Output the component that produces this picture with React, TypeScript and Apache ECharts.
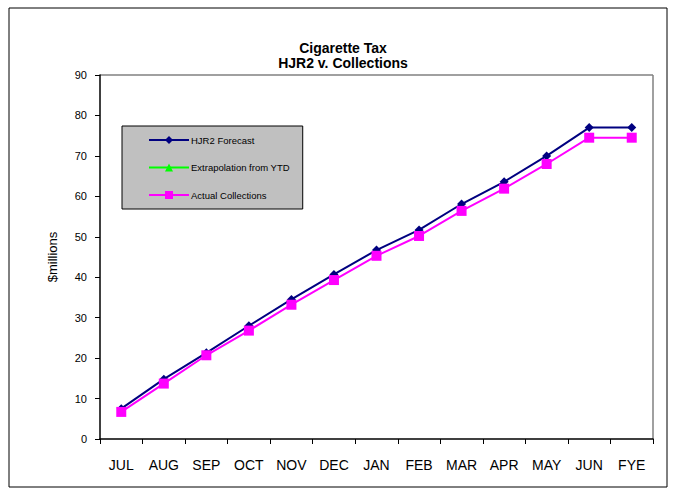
import React, { useEffect, useRef } from "react";
import * as echarts from "echarts";

const categories = ["JUL", "AUG", "SEP", "OCT", "NOV", "DEC", "JAN", "FEB", "MAR", "APR", "MAY", "JUN", "FYE"];
const hjr2Forecast = [7.5, 14.8, 21.3, 28.0, 34.5, 40.7, 46.7, 51.7, 58.1, 63.6, 70.0, 77.0, 77.0];
const extrapolation: (number | null)[] = [];
const actualCollections = [6.7, 13.7, 20.7, 26.8, 33.2, 39.3, 45.3, 50.2, 56.4, 61.9, 68.0, 74.5, 74.5];
const yTicks = { min: 0, max: 90, interval: 10 };

const FONT = "Liberation Sans, Arial, sans-serif";

export default function App() {
  const ref = useRef<HTMLDivElement>(null);
  useEffect(() => {
    document.body.style.margin = "0";
    const chart = echarts.init(ref.current!, null, { renderer: "svg" });
    chart.setOption({
      animation: false,
      backgroundColor: "#ffffff",
      title: {
        text: "Cigarette Tax\nHJR2 v. Collections",
        left: 338,
        top: 35,
        textAlign: "center",
        textStyle: { fontFamily: FONT, fontSize: 14, fontWeight: "bold", color: "#000", lineHeight: 15 },
      },
      graphic: [
        {
          type: "rect",
          shape: { x: 9, y: 8, width: 658, height: 479 },
          style: { fill: "none", stroke: "#000", lineWidth: 1 },
          silent: true,
          z: -1,
        },
        {
          type: "line",
          shape: { x1: 100, y1: 75, x2: 653, y2: 75 },
          style: { stroke: "#808080", lineWidth: 1.5 },
          silent: true,
        },
        {
          type: "line",
          shape: { x1: 653, y1: 75, x2: 653, y2: 439 },
          style: { stroke: "#808080", lineWidth: 1.5 },
          silent: true,
        },
      ],
      legend: {
        left: 122,
        top: 126,
        orient: "vertical",
        backgroundColor: "#c0c0c0",
        borderColor: "#000",
        borderWidth: 1,
        borderRadius: 0,
        padding: [9, 13, 9, 26],
        itemWidth: 40,
        itemHeight: 10,
        itemGap: 17.5,
        textStyle: { fontFamily: FONT, fontSize: 9.5, color: "#000", padding: [0, 0, 0, -3] },
        data: ["HJR2 Forecast", "Extrapolation from YTD", "Actual Collections"],
      },
      grid: { left: 100, right: 22, top: 75, bottom: 56 },
      xAxis: {
        type: "category",
        data: categories,
        boundaryGap: true,
        axisLine: { lineStyle: { color: "#000", width: 1.5 } },
        axisTick: { show: true, inside: false, length: 5, lineStyle: { color: "#000" } },
        axisLabel: { fontFamily: FONT, fontSize: 14, color: "#000", margin: 19 },
        splitLine: { show: false },
      },
      yAxis: {
        type: "value",
        min: yTicks.min,
        max: yTicks.max,
        interval: yTicks.interval,
        name: "$millions",
        nameLocation: "middle",
        nameGap: 41,
        nameTextStyle: { fontFamily: FONT, fontSize: 13, color: "#000" },
        axisLine: { show: true, lineStyle: { color: "#000", width: 1.5 } },
        axisTick: { show: true, inside: false, length: 5, lineStyle: { color: "#000" } },
        axisLabel: { fontFamily: FONT, fontSize: 11, color: "#000", margin: 13 },
        splitLine: { show: false },
      },
      series: [
        {
          name: "HJR2 Forecast",
          type: "line",
          data: hjr2Forecast,
          color: "#000080",
          symbol: "diamond",
          symbolSize: 9,
          lineStyle: { color: "#000080", width: 2 },
          itemStyle: { color: "#000080" },
          z: 2,
        },
        {
          name: "Extrapolation from YTD",
          type: "line",
          data: extrapolation,
          color: "#00ff00",
          symbol: "triangle",
          symbolSize: 8,
          lineStyle: { color: "#00ff00", width: 2 },
          itemStyle: { color: "#00ff00" },
        },
        {
          name: "Actual Collections",
          type: "line",
          data: actualCollections,
          color: "#ff00ff",
          symbol: "rect",
          symbolSize: 10,
          lineStyle: { color: "#ff00ff", width: 2 },
          itemStyle: { color: "#ff00ff" },
          z: 3,
        },
      ],
    });
    return () => chart.dispose();
  }, []);
  return <div ref={ref} style={{ width: 675, height: 495 }} />;
}
